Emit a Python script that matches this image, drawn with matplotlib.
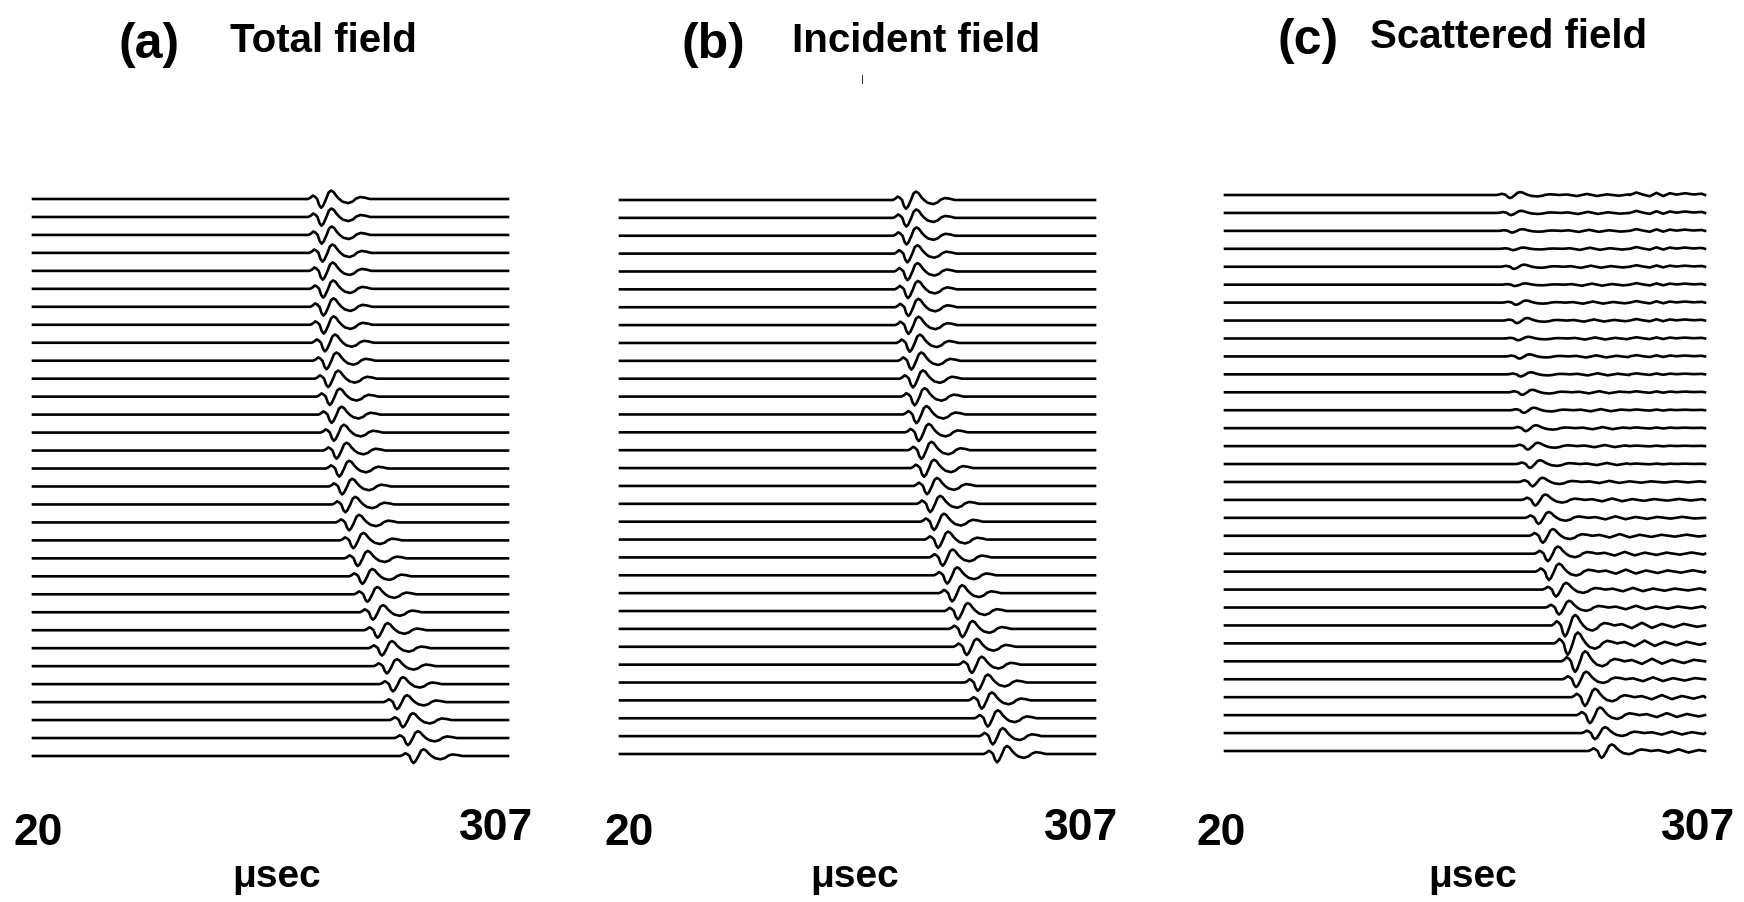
import numpy as np
import matplotlib.pyplot as plt
from matplotlib.lines import Line2D

# figure size in pixels (dpi 100)
W, H = 1744, 903

t_start, t_end = 20, 307
n_traces = 32

# wavelet shape: time from the dip (usec), amplitude (trace spacings)
wav_t = [-8, -6.5, -5, -3.8, -2.4, -1.2, 0, 1.2, 3, 4.5, 6, 7.5, 9.2, 10.9,
         13, 16.3, 19, 21, 23.5, 26.5, 29.5]
wav_a = [0, 0.07, 0.19, 0.13, 0, -0.34, -0.49, -0.37, 0, 0.36, 0.47, 0.39, 0.17, 0,
         -0.15, -0.23, -0.14, 0.02, 0.11, 0.07, 0]

# coda behind the scattered wavelet (usec after dip, amplitude)
coda_t = [34, 40, 46, 52, 58, 65, 71, 79, 86, 93, 100, 107, 114]
coda_a = [0.06, -0.12, 0.12, -0.11, 0.07, -0.08, 0.07, -0.06, 0.08, -0.05, 0.07, -0.04, 0.05]

# late wiggles near the right edge in the upper scattered traces
late_t = [262, 266, 270, 274, 278, 282, 286, 290, 295, 300, 305]
late_a = [0, 0.14, 0.02, -0.07, 0.12, -0.06, 0.1, 0.02, 0.1, 0.03, 0.07]

# dip times (usec) per trace, top to bottom
arr_total = [194.1, 194.3, 194.4, 194.9, 195.0, 195.3, 195.5, 195.6, 196.4, 197.3,
             198.3, 199.3, 200.4, 201.8, 203.4, 205.0, 206.8, 208.7, 211.0, 213.5,
             216.2, 219.0, 222.0, 225.4, 228.2, 230.8, 233.8, 237.5, 239.9, 243.5,
             246.5, 249.9]
amp_total = [1.0, 1.0, 1.0, 1.0, 1.0, 1.0, 1.0, 1.0, 0.98, 0.97, 0.96, 0.95, 0.94, 0.93,
             0.92, 0.92, 0.91, 0.9, 0.9, 0.89, 0.88, 0.87, 0.86, 0.85, 0.85, 0.84, 0.83,
             0.83, 0.82, 0.82, 0.81, 0.8]

arr_inc = [192.8, 193.0, 193.1, 193.6, 193.7, 194.0, 194.2, 194.3, 195.1, 196.0,
           197.0, 198.0, 199.1, 200.5, 202.1, 203.7, 205.5, 207.4, 209.7, 212.2,
           214.9, 217.7, 220.7, 224.1, 226.9, 229.5, 232.5, 236.2, 238.6, 242.2,
           245.2, 247.8]
amp_inc = [1.0] * 16 + [0.95] * 16

arr_scat = [190.4, 191.0, 191.6, 192.2, 192.8, 193.4, 194.0, 194.6, 195.3, 196.0,
            196.8, 197.7, 198.7, 199.8, 201.0, 202.3, 203.8, 205.5, 207.5, 210.0,
            213.0, 213.7, 217.9, 219.7, 223.3, 224.9, 229.3, 229.9, 235.2, 238.2,
            241.2, 245.2]
amp_scat = [0.35, 0.25, 0.2, 0.15, 0.25, 0.15, 0.25, 0.3, 0.2, 0.25, 0.25, 0.3, 0.3, 0.35,
            0.4, 0.45, 0.5, 0.65, 0.7, 0.8, 0.85, 0.95, 0.8, 0.8, 1.25, 1.3, 1.2, 0.9,
            1.0, 0.92, 0.7, 0.78]
late_amp = [1.0, 0.8, 0.7, 0.7, 0.6, 0.6, 0.6, 0.6, 0.5, 0.5, 0.4, 0.4, 0.3, 0.3, 0.2, 0.2] + [0] * 16

titles = [("(a)", "Total field"), ("(b)", "Incident field"), ("(c)", "Scattered field")]

# panel boxes in pixels: x of t_start, x of t_end, y of first trace, y of last trace
boxes = [(33, 508, 200, 757), (620, 1095, 201, 755), (1225, 1705, 196, 752)]
title_x = [(118, 230), (681, 792), (1278, 1370)]
title_y = [52, 52, 48]
lbl20_x = [13, 604, 1196]
lbl307_x = [533, 1118, 1735]
usec_x = [232, 810, 1428]

FONT = 'Liberation Sans'


def trace_points(arr, amp, with_coda=False, late=0.0):
    tt = [t_start]
    yy = [0.0]
    for dt, a in zip(wav_t, wav_a):
        tt.append(arr + dt)
        yy.append(amp * a)
    if with_coda:
        for dt, a in zip(coda_t, coda_a):
            t = arr + dt
            if t < t_end and (late == 0 or t < late_t[0]):
                tt.append(t)
                yy.append(max(amp, 0.5) * a)
    if late > 0:
        for t, a in zip(late_t, late_a):
            if t > tt[-1]:
                tt.append(t)
                yy.append(late * a)
    if tt[-1] < t_end:
        tt.append(t_end)
        yy.append(0.0)
    return np.array(tt), np.array(yy)


fig = plt.figure(figsize=(W / 100, H / 100), dpi=100)

panels = [(arr_total, amp_total, False, None),
          (arr_inc, amp_inc, False, None),
          (arr_scat, amp_scat, True, late_amp)]

for p in range(3):
    x0, x1, y0, y1 = boxes[p]
    ax = fig.add_axes([x0 / W, 1 - y1 / H, (x1 - x0) / W, (y1 - y0) / H])
    ax.set_xlim(t_start, t_end)
    ax.set_ylim(-(n_traces - 1), 0)
    ax.axis('off')
    arr, amp, coda, late = panels[p]
    for k in range(n_traces):
        lt = late[k] if late is not None else 0.0
        tt, yy = trace_points(arr[k], amp[k], coda, lt)
        ax.plot(tt, yy - k, color='black', lw=1.9, clip_on=False,
                solid_joinstyle='round')

    # titles
    fig.text(title_x[p][0] / W, 1 - (title_y[p] + 6) / H, titles[p][0], fontsize=36,
             fontweight='bold', family=FONT, ha='left', va='baseline')
    fig.text(title_x[p][1] / W, 1 - title_y[p] / H, titles[p][1], fontsize=29,
             fontweight='bold', family=FONT, ha='left', va='baseline')
    # time labels
    fig.text(lbl20_x[p] / W, 1 - 845 / H, "20", fontsize=32,
             fontweight='bold', family=FONT, ha='left', va='baseline')
    fig.text(lbl307_x[p] / W, 1 - 840 / H, "307", fontsize=32,
             fontweight='bold', family=FONT, ha='right', va='baseline')
    fig.text(usec_x[p] / W, 1 - 887 / H, "\u03bcsec", fontsize=28,
             fontweight='bold', family=FONT, ha='left', va='baseline')

# small speck between the first two titles in the scan
fig.add_artist(Line2D([862 / W, 862 / W], [1 - 84 / H, 1 - 76 / H],
                      color='black', lw=0.6))

fig.savefig("out.png", dpi=100)
